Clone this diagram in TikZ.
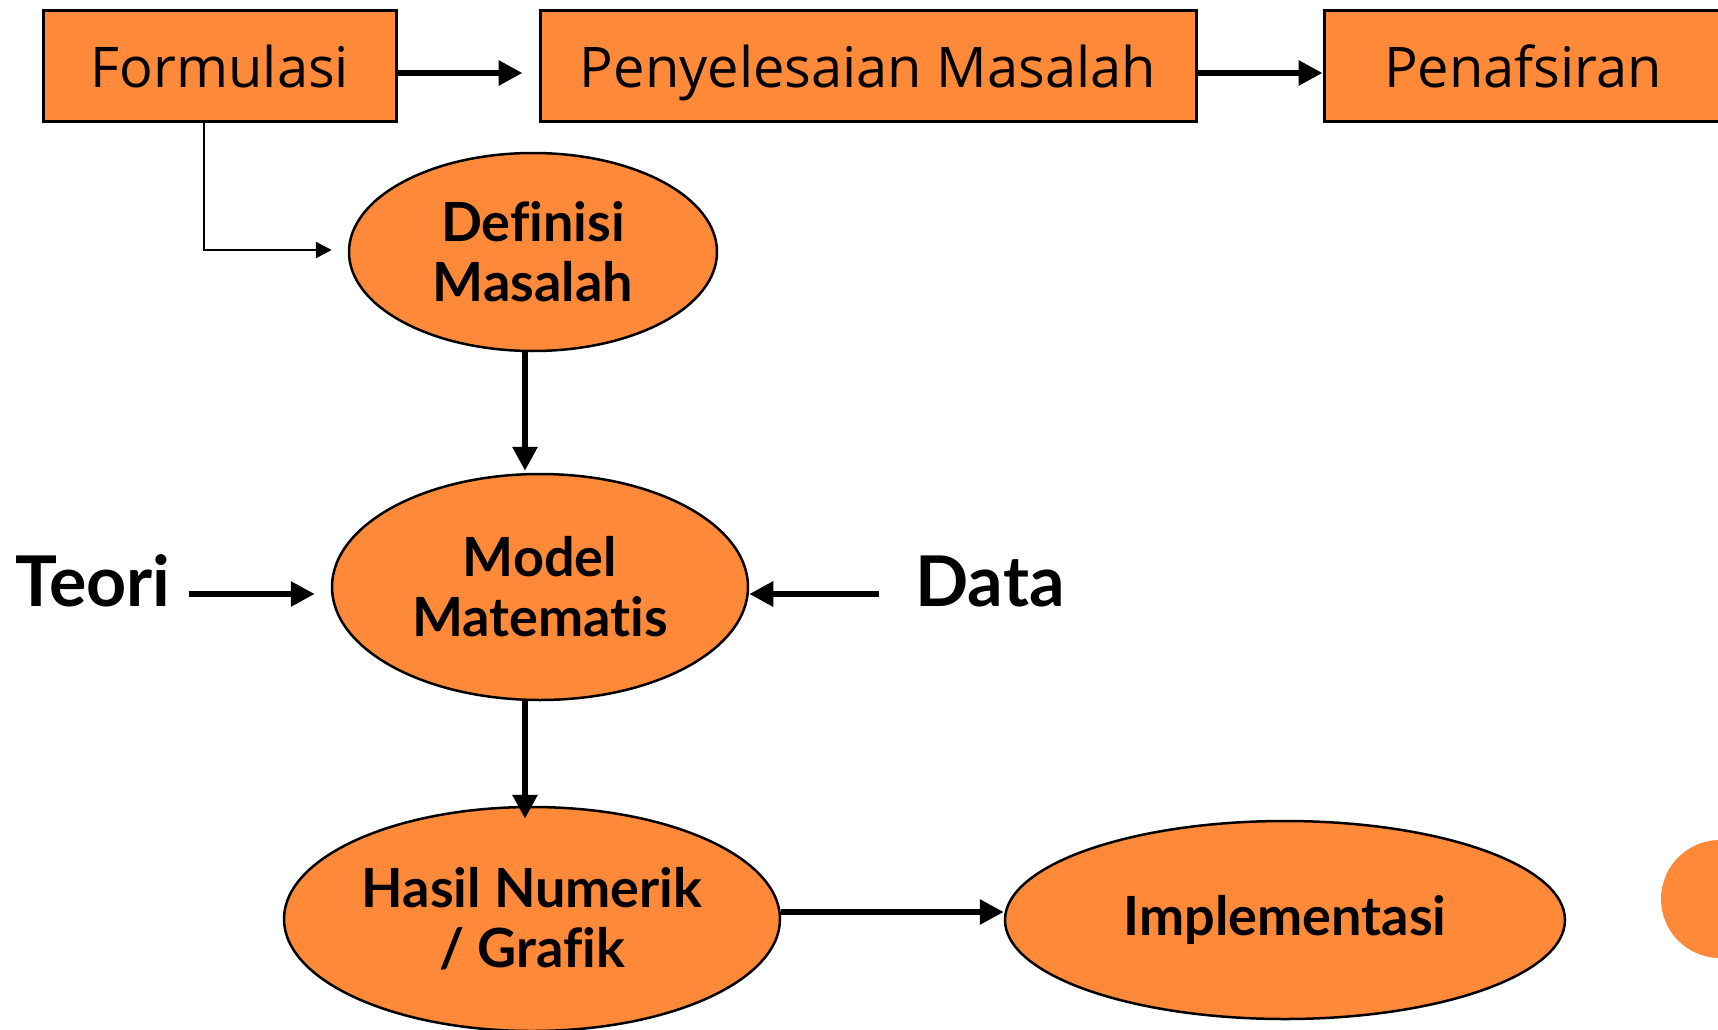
\documentclass[tikz,border=0pt]{standalone}
\usepackage{fontspec}
\setmainfont{Lato}
\newfontfamily\boxfont{Open Sans}
\newfontfamily\ellfont{Lato}[UprightFont=* Bold, Ligatures=NoCommon]
\usetikzlibrary{shapes.geometric,arrows.meta}
\definecolor{orng}{RGB}{254,137,57}
\tikzset{
  topbox/.style={draw=black, line width=3pt, fill=orng, rectangle, inner sep=0pt,
    minimum height=111pt, text height=50pt, text depth=6pt,
    font=\boxfont\fontsize{56}{62}\selectfont},
  ell/.style={draw=black, line width=2.5pt, fill=orng, ellipse, inner sep=0pt,
    align=center, font=\ellfont\fontsize{54}{60}\selectfont},
  side/.style={inner sep=0pt, font=\ellfont\fontsize{70}{80}\selectfont},
  arr/.style={line width=6pt, -{Triangle[length=24pt,width=24pt]}},
  thinarr/.style={line width=2.5pt, -{Triangle[length=16pt,width=16pt]}},
}
\begin{document}
\begin{tikzpicture}[x=1pt,y=-1pt]
\useasboundingbox (0,0) rectangle (1718,1030);
\clip (0,0) rectangle (1718,1030);
% top boxes
\node[topbox, minimum width=353pt] (F) at (220,66) {Formulasi};
\node[topbox, minimum width=656pt] (P) at (868,66) {Penyelesaian Masalah};
\node[topbox, minimum width=398pt] (N) at (1523,66) {Penafsiran};
\draw[arr] ([yshift=-7pt]F.east) -- ([shift={(-16pt,-7pt)}]P.west);
\draw[arr] ([yshift=-7pt]P.east) -- ([yshift=-7pt]N.west);
% ellipses
\node[ell, minimum width=368pt, minimum height=198pt] (D) at (533,252) {Definisi\\Masalah};
\node[ell, minimum width=416pt, minimum height=226pt] (M) at (540,587) {Model\\Matematis};
\node[ell, minimum width=496pt, minimum height=224pt] (H) at (532,919) {Hasil Numerik\\/ Grafik};
\node[ell, minimum width=560pt, minimum height=198pt] (I) at (1285,920) {Implementasi};
% side labels
\node[side] (T) at (93,581) {Teori};
\node[side] (Da) at (990,581) {Data};
% decorative circle
\fill[orng] (1720,899) circle (59pt);
% connectors
\draw[thinarr] ([xshift=-16pt]F.south) |- ([xshift=-16pt,yshift=2pt]D.west);
\draw[arr] ([xshift=-8pt]D.south) -- ([xshift=-15pt,yshift=2pt]M.north);
\draw[arr] ([xshift=-15pt]M.south) -- ([xshift=-7pt,yshift=-13pt]H.north);
\draw[arr] ([shift={(18pt,-13pt)}]T.east) -- ([shift={(-16pt,-7pt)}]M.west);
\draw[arr] ([shift={(-36pt,-13pt)}]Da.west) -- ([yshift=-7pt]M.east);
\draw[arr] ([yshift=7pt]H.east) -- ([yshift=8pt]I.west);
\end{tikzpicture}
\end{document}
